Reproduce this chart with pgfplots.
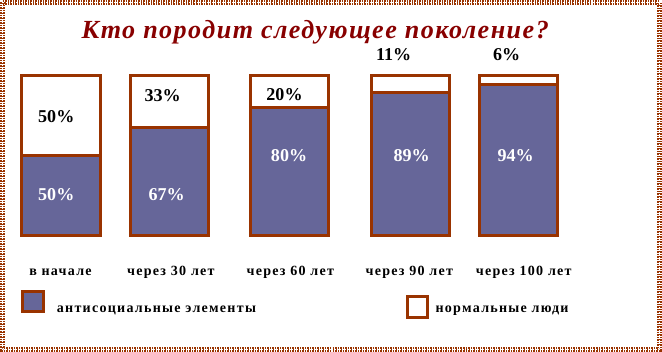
\documentclass[border=0pt]{standalone}
\usepackage{pgfplots}
\usepackage{pgfplotstable}
\pgfplotsset{compat=1.18}
\usepackage{fontspec}
\setmainfont{Liberation Serif}
\newfontfamily\titlefont[LetterSpace=5.6]{Liberation Serif}
\newfontfamily\lblfont[LetterSpace=9]{Liberation Serif}
\definecolor{brd}{HTML}{993300}
\definecolor{barfill}{HTML}{666699}
\definecolor{ttl}{HTML}{880000}
\tikzset{pct/.style={font=\fontsize{18}{20}\selectfont\bfseries},
  cat/.style={anchor=base, font=\lblfont\fontsize{14}{16}\selectfont\bfseries}}
\pgfplotstableread{
x anti normal
62 50 50
170 67 33
290 80 20
410 89 11
518 94 6
}\data
\begin{document}
\begin{tikzpicture}
\begin{axis}[scale only axis, width=662pt, height=353pt,
  xmin=0, xmax=662, ymin=-73.76, ymax=147.83,
  hide axis, clip=false, ybar, bar shift=0pt, bar width=78]
\addplot[fill=white, draw=brd, line width=3pt] table[x=x, y expr=\thisrow{anti}+\thisrow{normal}] {\data};
\addplot[fill=barfill, draw=brd, line width=3pt] table[x=x, y=anti] {\data};
% frame
\draw[brd, line width=4.5pt, dash pattern=on 1.5pt off 1pt] (axis cs:3.5,145.6) rectangle (axis cs:658.5,-71.6);
\draw[white, line width=1pt, dash pattern=on 0.8pt off 1.7pt] (axis cs:3.5,145.6) rectangle (axis cs:658.5,-71.6);
% title
\node[anchor=base, text=ttl, font=\titlefont\fontsize{26}{30}\selectfont\bfseries\itshape] at (axis cs:315.3,123.2) {Кто породит следующее поколение?};
% value labels
\node[pct, black] at (axis cs:57.3,74.4) {50\%};
\node[pct, white] at (axis cs:57.3,25.4) {50\%};
\node[pct, black] at (axis cs:163.3,87.4) {33\%};
\node[pct, white] at (axis cs:167.3,25.4) {67\%};
\node[pct, black] at (axis cs:284.7,87.6) {20\%};
\node[pct, white] at (axis cs:289.2,49.5) {80\%};
\node[pct, black] at (axis cs:393.5,112.6) {11\%};
\node[pct, white] at (axis cs:411.3,49.5) {89\%};
\node[pct, black] at (axis cs:506,112.6) {6\%};
\node[pct, white] at (axis cs:515,49.5) {94\%};
% category labels
\node[cat] at (axis cs:61.5,-25.4) {в начале};
\node[cat] at (axis cs:171.5,-25.4) {через 30 лет};
\node[cat] at (axis cs:290.5,-25.4) {через 60 лет};
\node[cat] at (axis cs:409,-25.4) {через 90 лет};
\node[cat] at (axis cs:523,-25.4) {через 100 лет};
% legend
\draw[fill=barfill, draw=brd, line width=3pt] (axis cs:23.2,-35.3) rectangle (axis cs:44.2,-47.9);
\draw[fill=white, draw=brd, line width=3pt] (axis cs:406.8,-38.3) rectangle (axis cs:427.2,-51.7);
\node[cat, anchor=base west, inner sep=0pt] at (axis cs:57.7,-48.7) {антисоциальные элементы};
\node[cat, anchor=base west, inner sep=0pt] at (axis cs:435,-48.7) {нормальные люди};
\end{axis}
\end{tikzpicture}
\end{document}
